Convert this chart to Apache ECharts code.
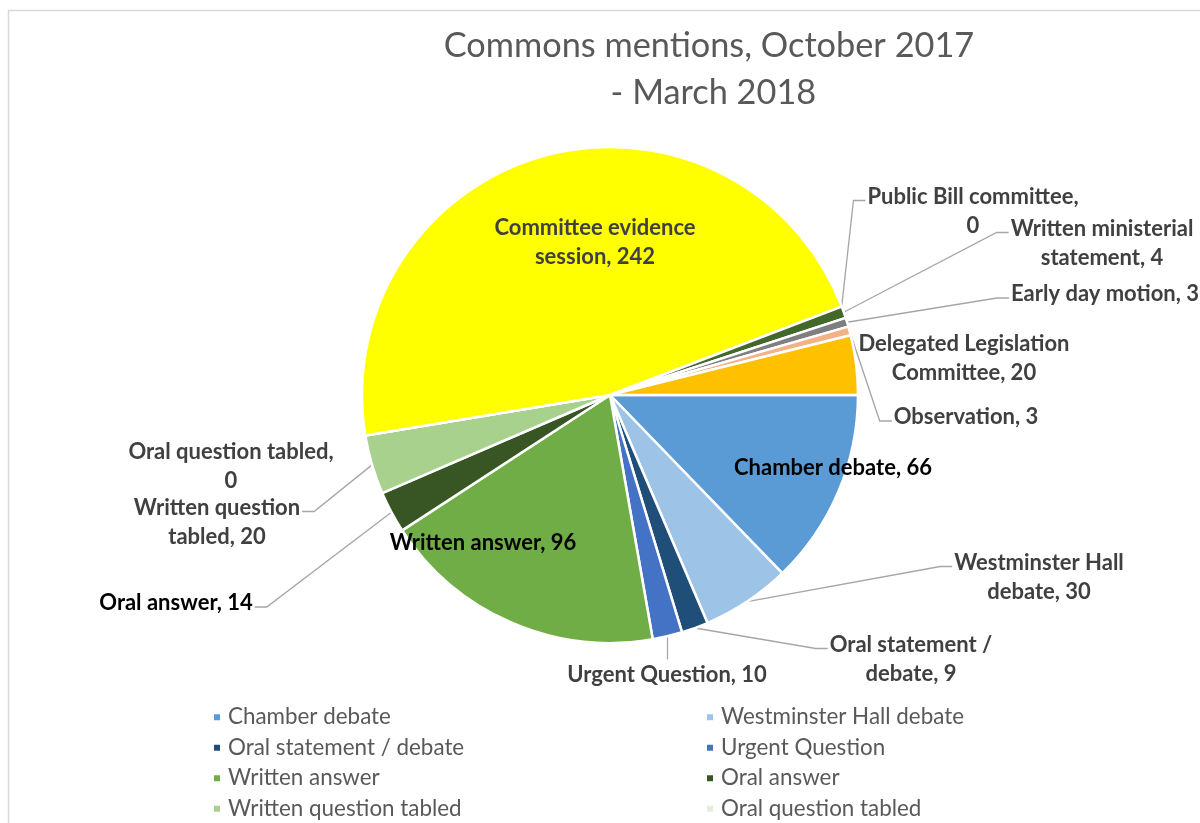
<!DOCTYPE html>
<html>
<head>
<meta charset="utf-8">
<script src="https://cdn.jsdelivr.net/npm/echarts@6/dist/echarts.min.js"></script>
<style>
  html, body { margin: 0; padding: 0; background: #ffffff; }
  #chart { width: 1200px; height: 823px; }
</style>
</head>
<body>
<div id="chart"></div>
<script>
// Mentions in the House of Commons, by type, October 2017 - March 2018
const categories = [
  'Chamber debate', 'Westminster Hall debate', 'Oral statement / debate', 'Urgent Question',
  'Written answer', 'Oral answer', 'Written question tabled', 'Oral question tabled',
  'Committee evidence session', 'Public Bill committee', 'Written ministerial statement',
  'Early day motion', 'Observation', 'Delegated Legislation Committee'
];
const mentions = [66, 30, 9, 10, 96, 14, 20, 0, 242, 0, 4, 3, 3, 20];

// How many words of "name, value" go on the first line of each label
const firstLineWords = {
  'Westminster Hall debate': 2, 'Oral statement / debate': 3, 'Written question tabled': 2,
  'Oral question tabled': 3, 'Committee evidence session': 2, 'Public Bill committee': 3,
  'Written ministerial statement': 2, 'Delegated Legislation Committee': 2
};

// Slice colours
const sliceColors = [
  '#5B9BD5', '#9DC3E6', '#1F4E79', '#4472C4', '#70AD47', '#375623', '#A9D18E', '#E2EFDA',
  '#FFFF00', '#A5A5A5', '#43682B', '#7F7F7F', '#F4B183', '#FFC000'
];
const darkLabels = ['Chamber debate', 'Written answer', 'Oral answer'];

// Label placement: centre of the text block and which side the leader line meets
const labelSpots = {
  'Chamber debate': { x: 833, y: 468 },
  'Westminster Hall debate': { x: 1039, y: 577, side: 'left' },
  'Oral statement / debate': { x: 911, y: 659, side: 'left' },
  'Urgent Question': { x: 667, y: 675, side: 'top' },
  'Written answer': { x: 483, y: 543 },
  'Oral answer': { x: 176, y: 603, side: 'right' },
  'Written question tabled': { x: 217, y: 522, side: 'right' },
  'Oral question tabled': { x: 231, y: 466 },
  'Committee evidence session': { x: 595, y: 242 },
  'Public Bill committee': { x: 973, y: 211, side: 'left' },
  'Written ministerial statement': { x: 1102, y: 243, side: 'left' },
  'Early day motion': { x: 1105, y: 294, side: 'left' },
  'Observation': { x: 966, y: 417, side: 'left' },
  'Delegated Legislation Committee': { x: 964, y: 358 }
};

const LABEL_LINE_H = 29;
const legendLeft = categories.filter((_, i) => i < 8 && i % 2 === 0);
const legendRight = categories.filter((_, i) => i < 8 && i % 2 === 1);

function labelText(p) {
  const words = (p.name + ', ' + p.value).split(' ');
  const n = firstLineWords[p.name];
  if (!n) return words.join(' ');
  return words.slice(0, n).join(' ') + '\n' + words.slice(n).join(' ');
}

function placeLabel(params) {
  const name = categories[params.dataIndex];
  const spot = labelSpots[name];
  const w = params.labelRect.width;
  const h = params.labelRect.height;
  const out = { x: spot.x, y: spot.y, align: 'center', verticalAlign: 'middle' };
  if (spot.side && params.labelLinePoints) {
    const start = params.labelLinePoints[0].slice();
    const top = spot.y - h / 2;
    const attachY = top + LABEL_LINE_H / 2 + 4;
    if (spot.side === 'left') {
      const end = [spot.x - w / 2 - 2, attachY];
      out.labelLinePoints = [start, [end[0] - 12, attachY], end];
    } else if (spot.side === 'right') {
      const end = [spot.x + w / 2 + 2, attachY];
      out.labelLinePoints = [start, [end[0] + 12, attachY], end];
    } else {
      const end = [start[0], top - 1];
      out.labelLinePoints = [start, end, end];
    }
  }
  return out;
}

const chart = echarts.init(document.getElementById('chart'), null, { renderer: 'canvas' });

const legendBase = {
  orient: 'vertical',
  top: 706,
  padding: 0,
  itemGap: 8,
  itemWidth: 8,
  itemHeight: 8,
  icon: 'rect',
  selectedMode: false,
  textStyle: {
    fontFamily: 'Lato', fontSize: 22.4, color: '#595959', lineHeight: 22.5,
    padding: [0, 0, 0, 2]
  }
};

chart.setOption({
  animation: false,
  backgroundColor: '#ffffff',
  graphic: [{
    type: 'rect',
    silent: true,
    z: -10,
    shape: { x: 8.5, y: 10.5, width: 1300, height: 1000 },
    style: { fill: 'none', stroke: '#D9D9D9', lineWidth: 1.5 }
  }],
  title: {
    text: 'Commons mentions, October 2017\n - March 2018',
    left: 709,
    top: 22,
    padding: 0,
    textAlign: 'center',
    textStyle: {
      fontFamily: 'Lato', fontWeight: 'normal', fontSize: 34.3,
      color: '#595959', lineHeight: 47
    }
  },
  legend: [
    Object.assign({}, legendBase, { left: 212, data: legendLeft }),
    Object.assign({}, legendBase, { left: 705, data: legendRight })
  ],
  series: [{
    type: 'pie',
    center: [610, 395],
    radius: 248,
    startAngle: 0,
    clockwise: true,
    avoidLabelOverlap: false,
    silent: true,
    emphasis: { disabled: true },
    itemStyle: { borderColor: '#ffffff', borderWidth: 2.5 },
    label: {
      show: true,
      position: 'outside',
      formatter: labelText,
      fontFamily: 'Lato',
      fontWeight: 'bold',
      fontSize: 22,
      lineHeight: LABEL_LINE_H,
      color: '#404040'
    },
    labelLine: {
      show: true,
      length: 10,
      length2: 10,
      lineStyle: { color: '#A6A6A6', width: 1.3 }
    },
    labelLayout: placeLabel,
    data: categories.map((name, i) => ({
      name: name,
      value: mentions[i],
      itemStyle: { color: sliceColors[i] },
      label: { color: darkLabels.includes(name) ? '#000000' : '#404040' },
      labelLine: { show: !!labelSpots[name].side }
    }))
  }]
});
</script>
</body>
</html>
